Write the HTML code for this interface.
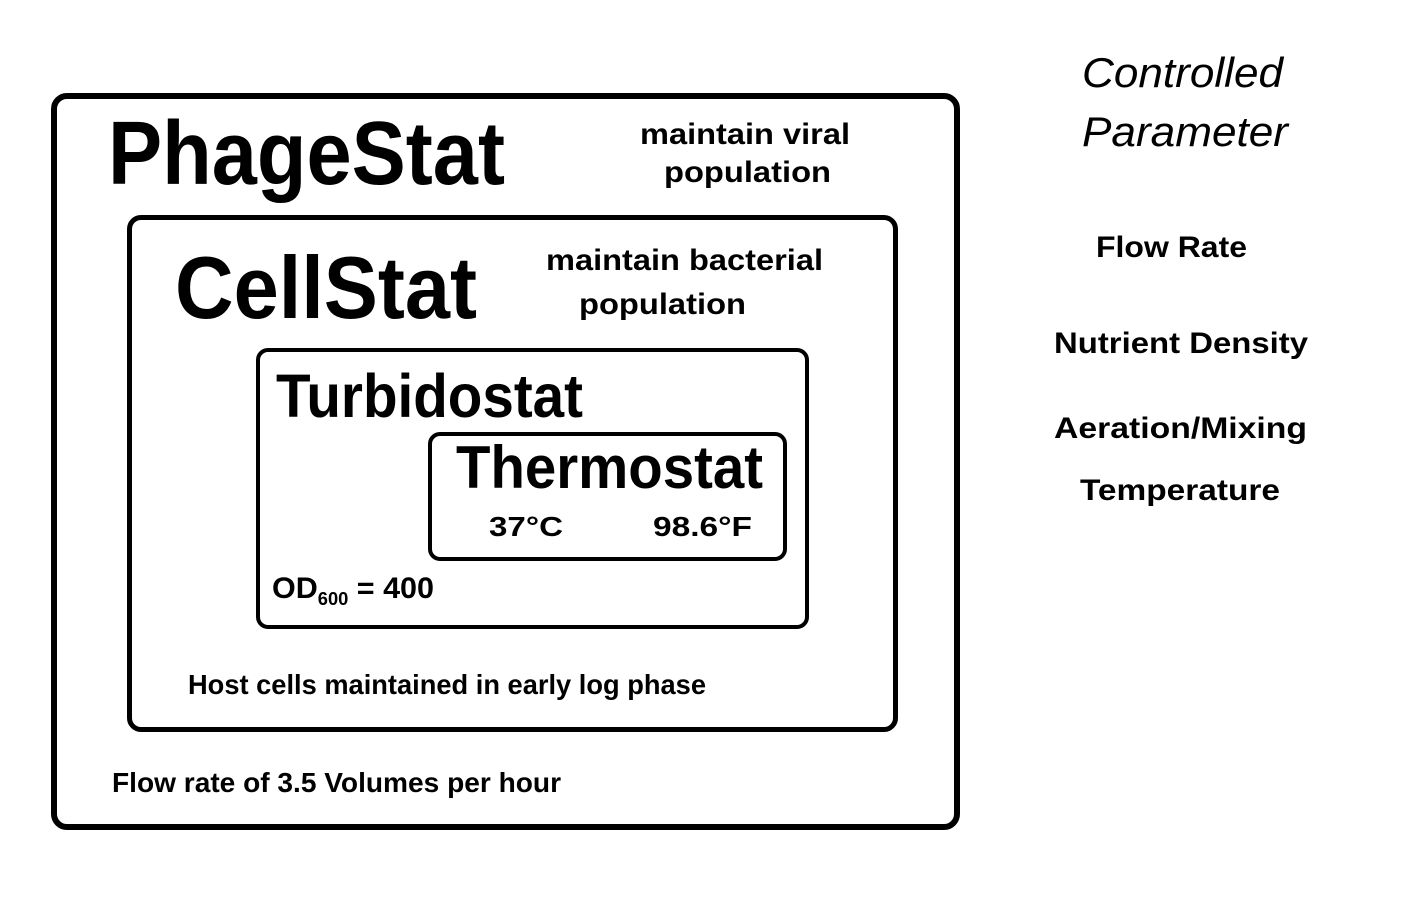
<!DOCTYPE html>
<html><head><meta charset="utf-8">
<style>
html,body{margin:0;padding:0;background:#fff;}
body{width:1408px;height:914px;position:relative;overflow:hidden;font-family:"Liberation Sans",sans-serif;color:#000;}
.box{position:absolute;border:solid #000;box-sizing:border-box;}
.t{position:absolute;white-space:nowrap;line-height:1;font-weight:bold;transform-origin:0 0;}
.i{font-weight:normal;font-style:italic;}
sub{font-size:0.6em;}
</style></head>
<body>
<div class="box" style="left:51px;top:93px;width:909px;height:737px;border-width:6px;border-radius:16px;"></div>
<div class="box" style="left:127px;top:215px;width:771px;height:517px;border-width:5px;border-radius:14px;"></div>
<div class="box" style="left:256px;top:348px;width:553px;height:281px;border-width:4px;border-radius:12px;"></div>
<div class="box" style="left:428px;top:432px;width:359px;height:129px;border-width:4px;border-radius:12px;"></div>

<div class="t" data-x="108" data-b="185" data-fs="90" data-w="397">PhageStat</div>
<div class="t" data-x="640" data-b="145" data-fs="30" data-w="210">maintain viral</div>
<div class="t" data-x="664" data-b="183" data-fs="30" data-w="167">population</div>
<div class="t" data-x="175" data-b="318" data-fs="88" data-w="302">CellStat</div>
<div class="t" data-x="546" data-b="271" data-fs="30" data-w="277">maintain bacterial</div>
<div class="t" data-x="579" data-b="315" data-fs="30" data-w="167">population</div>
<div class="t" data-x="276" data-b="418" data-fs="61" data-w="307">Turbidostat</div>
<div class="t" data-x="456" data-b="489" data-fs="60" data-w="307">Thermostat</div>
<div class="t" data-x="489" data-b="537" data-fs="28" data-w="74">37°C</div>
<div class="t" data-x="653" data-b="537" data-fs="28" data-w="99">98.6°F</div>
<div class="t" data-x="272" data-b="599" data-fs="30" data-w="162">OD<sub>600</sub> = 400</div>
<div class="t" data-x="188" data-b="695" data-fs="28" data-w="518">Host cells maintained in early log phase</div>
<div class="t" data-x="112" data-b="793" data-fs="28" data-w="449">Flow rate of 3.5 Volumes per hour</div>

<div class="t i" data-x="1082" data-b="88" data-fs="42" data-w="201">Controlled</div>
<div class="t i" data-x="1082" data-b="147" data-fs="42" data-w="206">Parameter</div>
<div class="t" data-x="1096" data-b="258" data-fs="30" data-w="151">Flow Rate</div>
<div class="t" data-x="1054" data-b="354" data-fs="30" data-w="254">Nutrient Density</div>
<div class="t" data-x="1054" data-b="439" data-fs="30" data-w="253">Aeration/Mixing</div>
<div class="t" data-x="1080" data-b="501" data-fs="30" data-w="200">Temperature</div>

<script>
document.querySelectorAll('.t').forEach(function(el){
  var fs=+el.dataset.fs, x=+el.dataset.x, b=+el.dataset.b, w=+el.dataset.w;
  el.style.fontSize=fs+'px';
  el.style.left=x+'px';
  el.style.top=(b-0.846*fs)+'px';
  var real=el.getBoundingClientRect().width;
  if(real>0) el.style.transform='scaleX('+(w/real)+')';
});
</script>
</body></html>
